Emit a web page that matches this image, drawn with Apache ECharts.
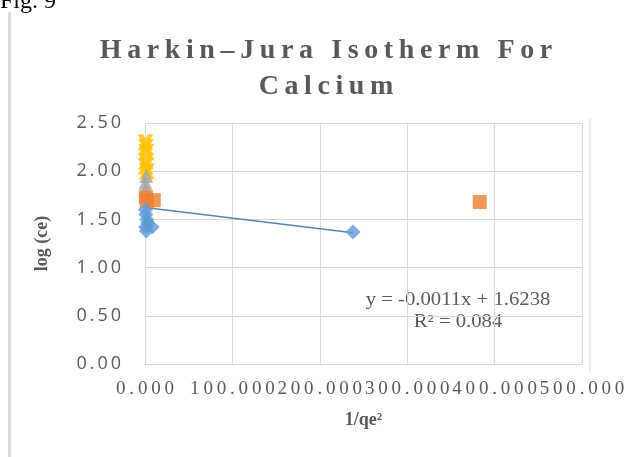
<!DOCTYPE html>
<html>
<head>
<meta charset="utf-8">
<script src="https://cdn.jsdelivr.net/npm/echarts@6/dist/echarts.min.js"></script>
<style>
  html, body { margin: 0; padding: 0; background: #fff; }
  #chart { width: 640px; height: 457px; }
</style>
</head>
<body>
<div id="chart"></div>
<script>
// Harkin–Jura isotherm for calcium: log(ce) against 1/qe²
const seriesNames = ['Series1', 'Series2', 'Series3', 'Series4'];
const series1 = [[0.5, 1.60], [1.0, 1.55], [2.0, 1.50], [0.8, 1.42], [3.0, 1.46], [8.0, 1.42], [1.5, 1.38], [238, 1.37]];
const series2 = [[1.0, 1.73], [2.0, 1.69], [10.0, 1.70], [383, 1.68]];
const series3 = [[0.5, 1.88], [1.0, 1.82], [1.5, 1.95]];
const series4 = [[0.5, 2.30], [1.0, 2.25], [1.5, 2.20], [1.2, 2.10], [0.8, 2.05], [2.0, 2.00]];

// Linear trend fitted to Series1
const trendSlope = -0.0011;
const trendIntercept = 1.6238;
const trendR2 = 0.084;
const trendX = [0, 238];

const xTicks = { min: 0, max: 500, interval: 100 };
const yTicks = { min: 0, max: 2.5, interval: 0.5 };

const titleLines = ['Harkin–Jura Isotherm For', 'Calcium'];

// widen glyph spacing with thin spaces
const THIN = '\u2009';
const spaced = s => s.split('').join(THIN);

const trendData = trendX.map(x => [x, trendIntercept + trendSlope * x]);
const eqText = 'y = ' + trendSlope.toFixed(4) + 'x + ' + trendIntercept.toFixed(4) +
  '\nR² = ' + trendR2.toFixed(3);

const chart = echarts.init(document.getElementById('chart'));
chart.setOption({
  animation: false,
  backgroundColor: '#ffffff',
  grid: { left: 145, right: 58, top: 123, bottom: 93 },
  xAxis: {
    type: 'value',
    min: xTicks.min, max: xTicks.max, interval: xTicks.interval,
    name: '1/qe²',
    nameLocation: 'middle',
    nameGap: 47,
    nameTextStyle: { fontFamily: 'Liberation Serif', fontWeight: 'bold', fontSize: 18, color: '#595959' },
    axisLine: { show: true, lineStyle: { color: '#d9d9d9', width: 1 } },
    axisTick: { show: false },
    splitLine: { show: true, lineStyle: { color: '#d9d9d9', width: 1 } },
    axisLabel: {
      margin: 16,
      fontFamily: 'Liberation Serif',
      fontSize: 19,
      color: '#595959',
      formatter: v => spaced(v.toFixed(3))
    }
  },
  yAxis: {
    type: 'value',
    min: yTicks.min, max: yTicks.max, interval: yTicks.interval,
    name: 'log (ce)',
    nameLocation: 'middle',
    nameGap: 94,
    nameRotate: 90,
    nameTextStyle: { fontFamily: 'Liberation Serif', fontWeight: 'bold', fontSize: 18, color: '#595959' },
    axisLine: { show: false },
    axisTick: { show: false },
    splitLine: { show: true, lineStyle: { color: '#d9d9d9', width: 1 } },
    axisLabel: {
      margin: 24,
      fontFamily: 'Open Sans',
      fontSize: 18,
      color: '#595959',
      formatter: v => spaced(v.toFixed(2))
    }
  },
  series: [
    {
      name: 'Trend',
      type: 'line',
      data: trendData,
      symbol: 'none',
      lineStyle: { color: '#5a82b0', width: 1.6 },
      z: 1
    },
    {
      name: seriesNames[0], type: 'scatter', data: series1,
      symbol: 'diamond', symbolSize: 15,
      itemStyle: { color: '#5B9BD5' }, z: 5
    },
    {
      name: seriesNames[1], type: 'scatter', data: series2,
      symbol: 'rect', symbolSize: 14,
      itemStyle: { color: '#ED7D31' }, z: 4
    },
    {
      name: seriesNames[2], type: 'scatter', data: series3,
      symbol: 'triangle', symbolSize: 14,
      itemStyle: { color: '#A5A5A5' }, z: 3
    },
    {
      name: seriesNames[3], type: 'scatter', data: series4,
      symbol: 'path://M0,0 L3.5,0 L5,2.5 L6.5,0 L10,0 L7,5 L10,10 L6.5,10 L5,7.5 L3.5,10 L0,10 L3,5 Z',
      symbolSize: 16,
      itemStyle: { color: '#FFC000' }, z: 2
    }
  ],
  graphic: [
    {
      type: 'text', left: 0, top: -10,
      style: { text: 'Fig. 9', font: '24px "Liberation Serif"', fill: '#000' }
    },
    {
      type: 'rect', left: 8, top: 12,
      shape: { width: 3, height: 445 },
      style: { fill: '#dcdcdc' }
    },
    {
      type: 'rect', left: 589, top: 118,
      shape: { width: 2, height: 255 },
      style: { fill: '#eeeeee' }
    },
    {
      // chart title, two centred lines
      type: 'text', x: 326, y: 33,
      style: {
        text: spaced(titleLines[0]) + '\n' + spaced(titleLines[1]),
        font: 'bold 28px "Liberation Serif"',
        fill: '#595959',
        align: 'center',
        verticalAlign: 'top',
        lineHeight: 36
      }
    },
    {
      // trendline equation and fit quality
      type: 'text', x: 458, y: 289,
      scaleX: 1.15,
      style: {
        text: eqText,
        font: '18px "Liberation Serif"',
        fill: '#595959',
        align: 'center',
        verticalAlign: 'top',
        lineHeight: 22
      }
    }
  ]
});
</script>
</body>
</html>
